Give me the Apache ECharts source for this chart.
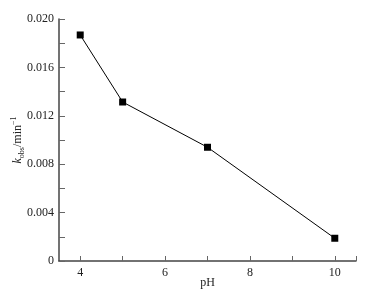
<!DOCTYPE html>
<html>
<head>
<meta charset="utf-8">
<script src="https://cdn.jsdelivr.net/npm/echarts@6/dist/echarts.min.js"></script>
<style>html,body{margin:0;padding:0;background:#fff;}#c{width:366px;height:296px;}</style>
</head>
<body>
<div id="c"></div>
<script>
var phValues = [4, 5, 7, 10];
var kobsValues = [0.01868, 0.01314, 0.0094, 0.00188];
var xTickValues = [4, 5, 6, 7, 8, 9, 10, 10.5];
var xLabelValues = [4, 6, 8, 10];
var yTickValues = [0, 0.002, 0.004, 0.006, 0.008, 0.010, 0.012, 0.014, 0.016, 0.018, 0.020];
var yLabelValues = [0, 0.004, 0.008, 0.012, 0.016, 0.020];

var font = '"Liberation Serif", "Times New Roman", serif';
var chart = echarts.init(document.getElementById('c'));
chart.setOption({
  animation: false,
  backgroundColor: '#fff',
  grid: {left: 59, right: 10, top: 19, bottom: 35, containLabel: false, outerBoundsMode: 'none'},
  xAxis: {
    type: 'value', min: 3.5, max: 10.5,
    name: 'pH', nameLocation: 'middle', nameGap: 16, nameMoveOverlap: false,
    nameTextStyle: {fontFamily: font, fontSize: 12, color: '#222'},
    axisLine: {lineStyle: {color: '#444', width: 1.5}},
    axisTick: {show: true, inside: true, length: 5, customValues: xTickValues, lineStyle: {color: '#666', width: 1}},
    axisLabel: {customValues: xLabelValues, fontFamily: font, fontSize: 12, color: '#222', margin: 6},
    splitLine: {show: false}
  },
  yAxis: {
    type: 'value', min: 0, max: 0.020,
    name: '{k|k}{sub|obs}{n|/min}{sup|−1}', nameLocation: 'middle', nameGap: 33, nameRotate: 90, nameMoveOverlap: false,
    nameTextStyle: {
      fontFamily: font, fontSize: 12, color: '#222',
      rich: {
        k: {fontFamily: font, fontSize: 12, fontStyle: 'italic', color: '#222', lineHeight: 16, verticalAlign: 'middle'},
        sub: {fontFamily: font, fontSize: 8, color: '#222', lineHeight: 16, verticalAlign: 'bottom', padding: [6, 0, 0, 0]},
        n: {fontFamily: font, fontSize: 12, color: '#222', lineHeight: 16, verticalAlign: 'middle'},
        sup: {fontFamily: font, fontSize: 8, color: '#222', lineHeight: 16, verticalAlign: 'top', padding: [0, 0, 6, 0]}
      }
    },
    axisLine: {show: true, lineStyle: {color: '#444', width: 1.5}},
    axisTick: {show: true, inside: true, length: 6, customValues: yTickValues, lineStyle: {color: '#666', width: 1}},
    axisLabel: {customValues: yLabelValues, fontFamily: font, fontSize: 12, color: '#222', margin: 5,
      formatter: function (v) { return v === 0 ? '0' : v.toFixed(3); }},
    splitLine: {show: false}
  },
  series: [{
    type: 'line',
    data: phValues.map(function (p, i) { return [p, kobsValues[i]]; }),
    symbol: 'rect', symbolSize: 7,
    itemStyle: {color: '#000'},
    lineStyle: {color: '#000', width: 1}
  }]
});
</script>
</body>
</html>
